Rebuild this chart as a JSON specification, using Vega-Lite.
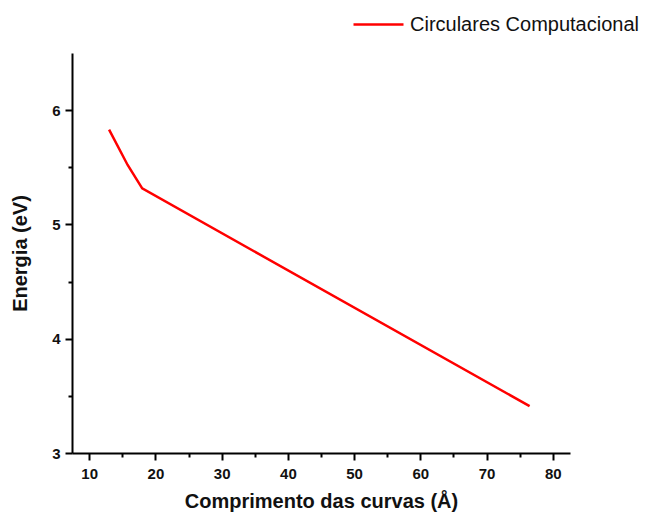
{
  "$schema": "https://vega.github.io/schema/vega-lite/v6.json",
  "width": 498,
  "height": 400,
  "autosize": "none",
  "padding": {"left": 72, "top": 53, "right": 79, "bottom": 63},
  "background": "white",
  "config": {
    "view": {"stroke": null},
    "font": "Liberation Sans",
    "axis": {
      "domainColor": "#000",
      "domainWidth": 2,
      "tickColor": "#000",
      "tickWidth": 2,
      "labelColor": "#111",
      "labelFont": "Liberation Sans",
      "labelFontWeight": "bold",
      "labelFontSize": 15,
      "titleFont": "Liberation Sans",
      "titleFontWeight": "bold",
      "titleFontSize": 20,
      "titleColor": "#111",
      "grid": false
    }
  },
  "data": {
    "values": [
      {"comprimento": 13.0, "energia": 5.83, "serie": "Circulares Computacional"},
      {"comprimento": 15.8, "energia": 5.52, "serie": "Circulares Computacional"},
      {"comprimento": 18.0, "energia": 5.315, "serie": "Circulares Computacional"},
      {"comprimento": 76.5, "energia": 3.41, "serie": "Circulares Computacional"}
    ]
  },
  "mark": {"type": "line", "strokeWidth": 2.5, "clip": true},
  "encoding": {
    "x": {
      "field": "comprimento",
      "type": "quantitative",
      "scale": {"domain": [7.4, 82.6], "nice": false, "zero": false},
      "axis": {
        "title": "Comprimento das curvas (Å)",
        "values": [10, 15, 20, 25, 30, 35, 40, 45, 50, 55, 60, 65, 70, 75, 80],
        "labelExpr": "datum.value % 10 === 0 ? format(datum.value, 'd') : ''",
        "tickSize": {"condition": {"test": "datum.value % 10 !== 0", "value": 4}, "value": 7},
        "labelPadding": 6,
        "titlePadding": 10
      }
    },
    "y": {
      "field": "energia",
      "type": "quantitative",
      "scale": {"domain": [3, 6.5], "nice": false, "zero": false},
      "axis": {
        "title": "Energia (eV)",
        "values": [3, 3.5, 4, 4.5, 5, 5.5, 6],
        "labelExpr": "datum.value % 1 === 0 ? format(datum.value, 'd') : ''",
        "tickSize": {"condition": {"test": "datum.value % 1 !== 0", "value": 4}, "value": 7},
        "labelPadding": 5,
        "titlePadding": 21
      }
    },
    "color": {
      "field": "serie",
      "type": "nominal",
      "scale": {"range": ["#ff0000"]},
      "legend": {
        "title": null,
        "orient": "none",
        "legendX": 280,
        "legendY": -55,
        "symbolType": "stroke",
        "symbolSize": 2500,
        "symbolStrokeWidth": 2.5,
        "labelFont": "Liberation Sans",
        "labelFontSize": 20,
        "labelColor": "#111",
        "labelOffset": 5,
        "labelLimit": 400
      }
    }
  }
}
